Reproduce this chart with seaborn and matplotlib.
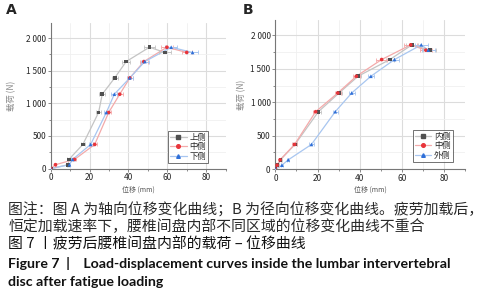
import numpy as np
import pandas as pd
import matplotlib
matplotlib.use("Agg")
import matplotlib.pyplot as plt
import seaborn as sns
from matplotlib.lines import Line2D
from matplotlib.ticker import MultipleLocator, FuncFormatter

sns.set_style("white")
plt.rcParams['font.family'] = ['Noto Sans CJK SC', 'DejaVu Sans']

# load levels (N), same for every curve
load = [0, 60, 140, 370, 860, 1140, 1390, 1640, 1860, 1780]

# panel A: axial displacement (mm)
a_names = ["上侧", "中侧", "下侧"]
a_upper = [0, 9.0, 9.3, 16.5, 24.6, 26.5, 32.9, 38.8, 50.8, 58.8]
a_mid = [0, 2.4, 12.2, 22.6, 29.8, 35.5, 40.7, 47.9, 59.8, 70.0]
a_lower = [0, 9.6, 11.2, 20.5, 28.6, 32.7, 40.7, 48.4, 62.0, 73.0]
a_err_upper = [0, 0.5, 1.0, 1.0, 1.2, 1.5, 1.5, 2.0, 3.0, 3.0]
a_err_mid = [0, 0.5, 1.0, 1.0, 1.2, 1.5, 1.5, 2.0, 3.0, 2.5]
a_err_lower = [0, 0.5, 1.0, 1.0, 1.2, 1.5, 1.5, 2.0, 3.0, 3.0]

# panel B: radial displacement (mm)
b_names = ["内侧", "中侧", "外侧"]
b_inner = [0, 1.0, 2.4, 9.3, 20.4, 30.2, 39.2, 54.3, 64.8, 73.2]
b_mid = [0, 0.8, 2.2, 9.1, 19.1, 29.6, 38.4, 50.4, 64.2, 71.4]
b_outer = [0, 3.1, 6.1, 17.1, 28.4, 36.2, 45.3, 56.5, 69.2, 72.5]
b_err_inner = [0, 0.5, 0.5, 1.0, 1.2, 1.5, 1.5, 2.0, 3.0, 3.0]
b_err_mid = [0, 0.5, 0.5, 1.0, 1.2, 1.5, 1.5, 2.5, 3.0, 3.0]
b_err_outer = [0, 0.5, 0.5, 1.0, 1.2, 1.5, 1.5, 2.0, 3.0, 3.0]

colors = ["#505050", "#e8343a", "#2f6fd8"]
line_colors = ["#c4c4c4", "#f4aaaa", "#a8c6f0"]
markers = ["s", "o", "^"]


def panel(ax, names, xs, errs, legend_anchor, ylab_x):
    df = pd.DataFrame({
        "x": np.concatenate(xs),
        "y": load * len(xs),
        "side": np.repeat(names, len(load)),
    })
    sns.lineplot(data=df, x="x", y="y", hue="side", palette=line_colors,
                 sort=False, estimator=None, lw=0.9, legend=False, ax=ax, zorder=2)
    for i, (x, e) in enumerate(zip(xs, errs)):
        ax.errorbar(x, load, xerr=e, fmt="none", ecolor=line_colors[i],
                    elinewidth=0.7, capsize=1.2, capthick=0.6, zorder=3)
    sns.scatterplot(data=df, x="x", y="y", hue="side", style="side",
                    palette=colors, markers=dict(zip(names, markers)),
                    s=7, linewidth=0, legend=False, ax=ax, zorder=4)
    ax.set_xlim(0, 90)
    ax.set_ylim(0, 2230)
    ax.xaxis.set_major_locator(MultipleLocator(20))
    ax.xaxis.set_minor_locator(MultipleLocator(10))
    ax.yaxis.set_major_locator(MultipleLocator(500))
    ax.yaxis.set_minor_locator(MultipleLocator(250))
    ax.yaxis.set_major_formatter(FuncFormatter(lambda v, p: f"{int(v):,}".replace(",", " ")))
    ax.grid(which="major", color="#dcdcdc", lw=0.8)
    ax.grid(which="minor", color="#f0f0f0", lw=0.6)
    ax.set_axisbelow(True)
    for s in ["top", "right"]:
        ax.spines[s].set_visible(False)
    for s in ["left", "bottom"]:
        ax.spines[s].set_color("#777777")
        ax.spines[s].set_linewidth(0.8)
    ax.tick_params(which="both", direction="out", length=2, width=0.6,
                   color="#777777", labelsize=6, pad=1.5, bottom=True, left=True)
    ax.tick_params(which="minor", length=1.5)
    ax.set_xlabel("位移 (mm)", fontsize=5, color="#555555", labelpad=2)
    ax.set_ylabel("载荷 (N)", fontsize=6, color="#888888")
    ax.yaxis.set_label_coords(ylab_x, 0.5)
    handles = [Line2D([], [], color=line_colors[i], lw=0.9, marker=markers[i],
                      markerfacecolor=colors[i], markeredgecolor=colors[i], markersize=2.6)
               for i in range(3)]
    leg = ax.legend(handles, names, loc="lower right", bbox_to_anchor=legend_anchor,
                    fontsize=6, frameon=True, fancybox=False, handlelength=2.0,
                    handletextpad=0.3, borderpad=0.25, labelspacing=0.05,
                    borderaxespad=0)
    leg.get_frame().set_edgecolor("#333333")
    leg.get_frame().set_linewidth(0.6)


fig = plt.figure(figsize=(4.84, 3.0), dpi=100)
ax_a = fig.add_axes([0.105, 0.438, 0.361, 0.485])
ax_b = fig.add_axes([0.569, 0.436, 0.392, 0.497])

panel(ax_a, a_names, [a_upper, a_mid, a_lower], [a_err_upper, a_err_mid, a_err_lower], (0.9, 0.04), -0.20)
panel(ax_b, b_names, [b_inner, b_mid, b_outer], [b_err_inner, b_err_mid, b_err_outer], (0.935, 0.05), -0.155)

fig.text(0.012, 0.955, "A", fontsize=10, fontweight="bold", family=["DejaVu Sans"])
fig.text(0.502, 0.955, "B", fontsize=10, fontweight="bold", family=["DejaVu Sans"])

cap_color = "#2a2a2a"
fig.text(0.017, 0.300, "图注：图 A 为轴向位移变化曲线；B 为径向位移变化曲线。疲劳加载后，",
         fontsize=10.7, color=cap_color, va="center")
fig.text(0.017, 0.245, "恒定加载速率下，腰椎间盘内部不同区域的位移变化曲线不重合",
         fontsize=10.7, color=cap_color, va="center")
fig.text(0.017, 0.187, "图 7 丨疲劳后腰椎间盘内部的载荷 – 位移曲线",
         fontsize=10.7, color="#111111", va="center")
fig.text(0.017, 0.120, "Figure 7  |    Load-displacement curves inside the lumbar intervertebral",
         fontsize=10.2, fontweight="bold", color="#111111", va="center", family=["Lato"])
fig.text(0.017, 0.060, "disc after fatigue loading",
         fontsize=10.2, fontweight="bold", color="#111111", va="center", family=["Lato"])

fig.savefig("out.png", dpi=100)
